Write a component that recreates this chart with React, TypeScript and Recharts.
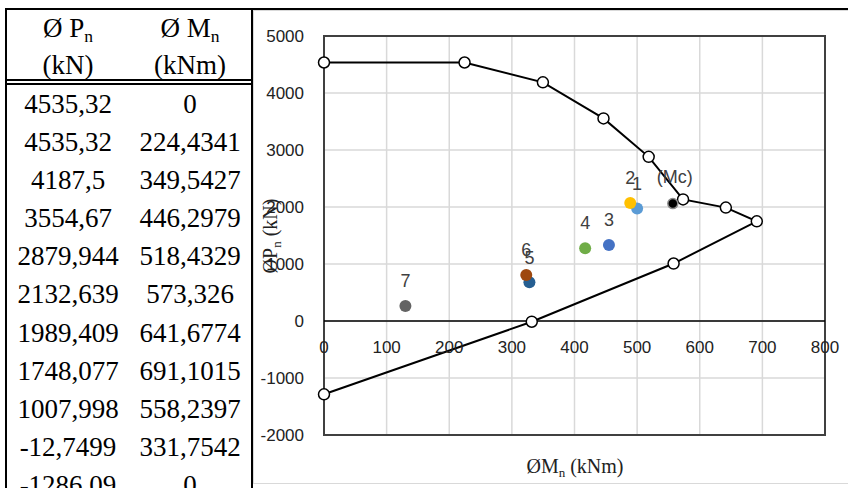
import React from "react";
import {
  ScatterChart,
  Scatter,
  XAxis,
  YAxis,
  CartesianGrid,
  ReferenceLine,
  ReferenceArea,
} from "recharts";

// interaction curve (ØMn, ØPn)
const curveMn = [0, 224.4341, 349.5427, 446.2979, 518.4329, 573.326, 641.6774, 691.1015, 558.2397, 331.7542, 0];
const curvePn = [4535.32, 4535.32, 4187.5, 3554.67, 2879.944, 2132.639, 1989.409, 1748.077, 1007.998, -12.7499, -1286.09];

// load points
const pointNames = ["1", "2", "3", "4", "5", "6", "7", "(Mc)"];
const pointMn = [500, 489, 455, 417, 328, 323, 130, 557];
const pointPn = [1975, 2070, 1333, 1278, 680, 805, 265, 2060];
const pointColors = ["#5b9bd5", "#ffc000", "#4472c4", "#70ad47", "#255e91", "#9e480e", "#636363", "#000000"];

const xTicks = [0, 100, 200, 300, 400, 500, 600, 700, 800];
const yTicks = [-2000, -1000, 0, 1000, 2000, 3000, 4000, 5000];

const sans = "'Liberation Sans', Arial, sans-serif";
const serif = "'Liberation Serif', 'Times New Roman', 'DejaVu Serif', serif";

const CHART_H = 474;
const MARGIN_TOP = 26;
const X_AXIS_H = 49;
const PLOT_H = CHART_H - MARGIN_TOP - X_AXIS_H;
const Y_MIN = -2000;
const Y_MAX = 5000;
const ZERO_SHIFT = (PLOT_H * (0 - Y_MIN)) / (Y_MAX - Y_MIN);

const fmt = (v: number) => String(v).replace(".", ",");

const curveData = curveMn.map((m, i) => ({ m, p: curvePn[i] }));
const pointData = pointNames.map((name, i) => ({
  name,
  m: pointMn[i],
  p: pointPn[i],
  color: pointColors[i],
}));

const subStyle: React.CSSProperties = {
  fontSize: "0.65em",
  position: "relative",
  top: "0.3em",
  lineHeight: 0,
};

function XTick(props: any) {
  const { x, y, payload } = props;
  return (
    <text
      x={x}
      y={y - ZERO_SHIFT + 18}
      dy="0.35em"
      textAnchor="middle"
      fontSize={17}
      fontFamily={sans}
      fill="#222"
    >
      {payload.value}
    </text>
  );
}

function CurveDot(props: any) {
  const { cx, cy } = props;
  return <circle cx={cx} cy={cy} r={5.5} fill="#fff" stroke="#000" strokeWidth={1.5} />;
}

function LoadDot(props: any) {
  const { cx, cy, payload } = props;
  const isMc = payload.name === "(Mc)";
  return (
    <g>
      <circle
        cx={cx}
        cy={cy}
        r={isMc ? 5 : 6}
        fill={payload.color}
        stroke={isMc ? "#8c8c8c" : "none"}
        strokeWidth={isMc ? 1.5 : 0}
      />
      <text
        x={cx + (isMc ? 2 : 0)}
        y={cy - (isMc ? 27 : 25)}
        dy="0.35em"
        textAnchor="middle"
        fontSize={18}
        fontFamily={sans}
        fill="#404040"
      >
        {payload.name}
      </text>
    </g>
  );
}

function Table() {
  return (
    <div
      style={{
        position: "absolute",
        left: 5,
        top: 10,
        width: 244,
        height: 478,
        borderLeft: "2px solid #000",
        borderRight: "2px solid #000",
        fontFamily: serif,
        fontSize: 27,
        color: "#000",
        overflow: "hidden",
      }}
    >
      <div
        style={{
          display: "flex",
          height: 69,
          borderBottom: "6px double #000",
          lineHeight: "37px",
          textAlign: "center",
        }}
      >
        <div style={{ width: "50%" }}>
          <div style={{ height: 37 }}>
            Ø P<span style={subStyle}>n</span>
          </div>
          <div style={{ height: 37 }}>(kN)</div>
        </div>
        <div style={{ width: "50%" }}>
          <div style={{ height: 37 }}>
            Ø M<span style={subStyle}>n</span>
          </div>
          <div style={{ height: 37 }}>(kNm)</div>
        </div>
      </div>
      {curvePn.map((p, i) => (
        <div key={i} style={{ display: "flex", height: 38.1, lineHeight: "38px", textAlign: "center" }}>
          <div style={{ width: "50%" }}>{fmt(p)}</div>
          <div style={{ width: "50%" }}>{fmt(curveMn[i])}</div>
        </div>
      ))}
    </div>
  );
}

export default function App() {
  return (
    <div style={{ position: "relative", width: 848, height: 488, overflow: "hidden", background: "#fff" }}>
      <style>{"body{margin:0}"}</style>
      <div style={{ position: "absolute", left: 5, top: 8, width: 843, height: 2, background: "#000" }} />
      <Table />
      <div
        style={{
          position: "absolute",
          left: 253,
          top: 10,
          width: 600,
          height: CHART_H,
          border: "1px solid #d9d9d9",
          boxSizing: "border-box",
        }}
      />
      <div style={{ position: "absolute", left: 253, top: 10 }}>
        <ScatterChart width={595} height={CHART_H} margin={{ top: MARGIN_TOP, right: 23, left: 0, bottom: 0 }}>
          <CartesianGrid stroke="#d9d9d9" strokeWidth={1.5} />
          <XAxis
            type="number"
            dataKey="m"
            domain={[0, 800]}
            ticks={xTicks}
            interval={0}
            height={X_AXIS_H}
            axisLine={false}
            tickLine={false}
            tick={<XTick />}
          />
          <YAxis
            type="number"
            dataKey="p"
            domain={[Y_MIN, Y_MAX]}
            ticks={yTicks}
            interval={0}
            width={71}
            axisLine={false}
            tickLine={false}
            tickMargin={14}
            tick={{ fontSize: 17, fill: "#222", fontFamily: sans }}
          />
          <ReferenceLine y={0} stroke="#000" strokeWidth={1.5} />
          <ReferenceArea x1={0} x2={800} y1={Y_MIN} y2={Y_MAX} fill="none" stroke="#404040" strokeWidth={2} />
          <Scatter
            data={curveData}
            line={{ stroke: "#000", strokeWidth: 2 }}
            lineType="joint"
            shape={<CurveDot />}
            isAnimationActive={false}
          />
          <Scatter data={pointData} shape={<LoadDot />} isAnimationActive={false} />
        </ScatterChart>
      </div>
      <div
        style={{
          position: "absolute",
          left: 475,
          top: 452,
          width: 200,
          textAlign: "center",
          fontFamily: serif,
          fontSize: 20,
          lineHeight: "28px",
          color: "#222",
        }}
      >
        ØM<span style={subStyle}>n</span> (kNm)
      </div>
      <div
        style={{
          position: "absolute",
          left: 170,
          top: 222,
          width: 200,
          textAlign: "center",
          fontFamily: serif,
          fontSize: 20,
          lineHeight: "28px",
          color: "#222",
          transform: "rotate(-90deg)",
        }}
      >
        ØP<span style={subStyle}>n</span> (kN)
      </div>
    </div>
  );
}
